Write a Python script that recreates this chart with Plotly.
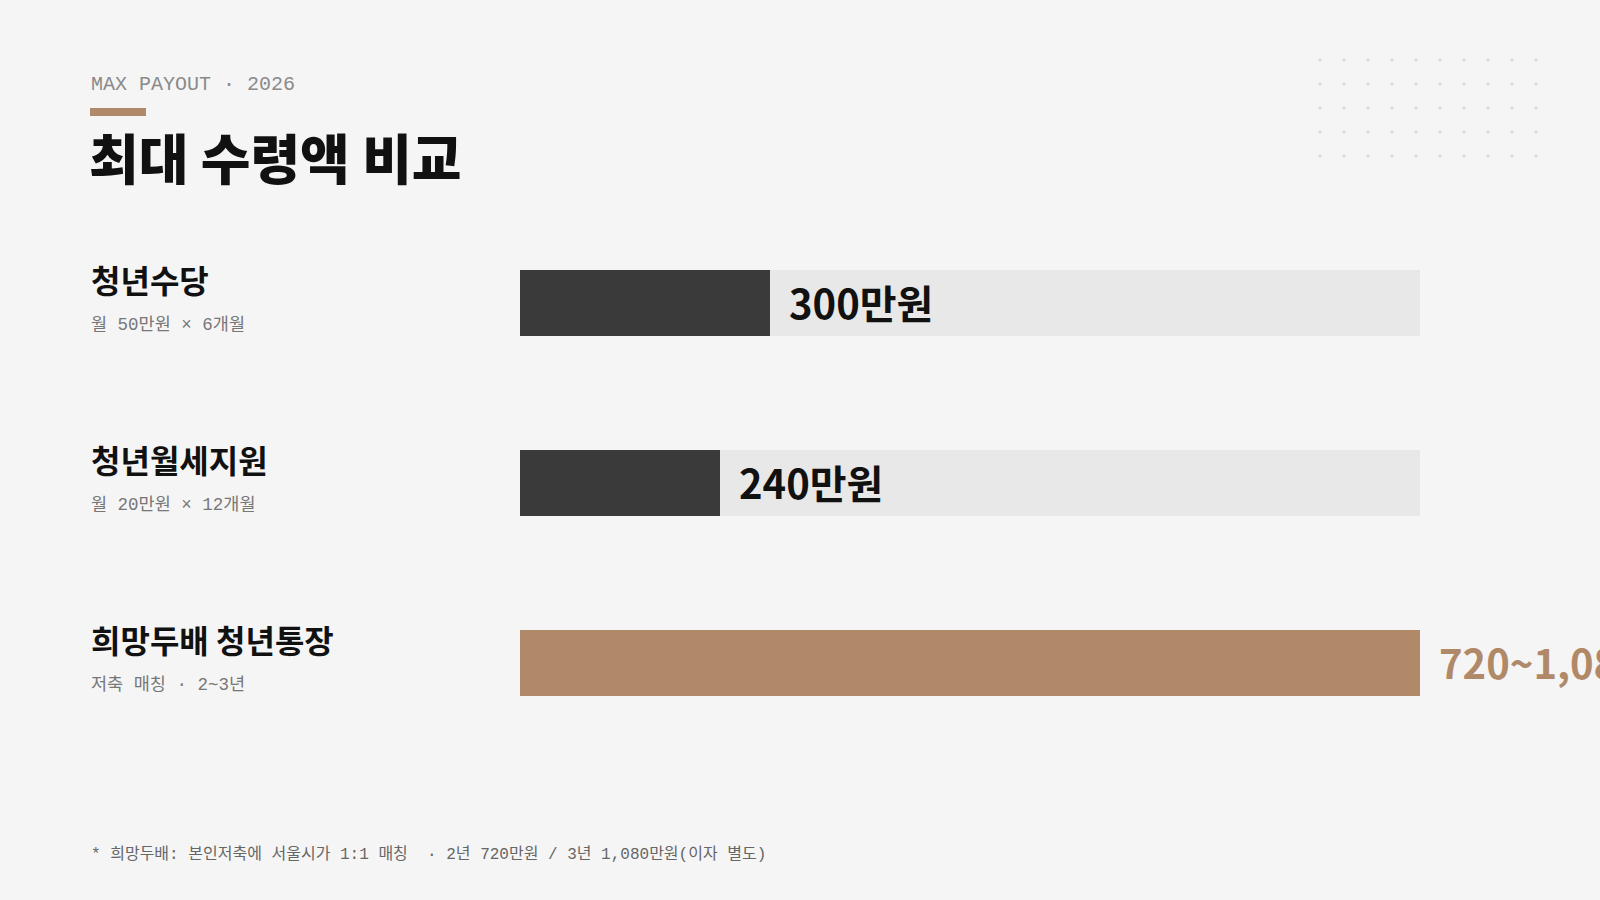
import plotly.graph_objects as go

# ---- data ----
categories = ["청년수당", "청년월세지원", "희망두배 청년통장"]
subtitles = ["월 50만원 × 6개월", "월 20만원 × 12개월", "저축 매칭 · 2~3년"]
values = [300, 240, 1080]          # 만원 (upper bound for 희망두배)
value_labels = ["300만원", "240만원", "720~1,080만원"]
max_value = 1080

W, H = 1600, 900
BG = "#f5f5f5"
DARK = "#3a3a3a"
BROWN = "#b08968"
TRACK = "#e8e8e8"
bar_colors = [DARK, DARK, BROWN]
label_colors = ["#111111", "#111111", BROWN]

KR = "Noto Sans CJK KR"
MONO = "Courier New, Nimbus Mono PS, FreeMono, Courier, Liberation Mono, Noto Sans CJK KR"

fig = go.Figure()
# track
fig.add_trace(go.Bar(
    y=categories, x=[max_value] * len(categories), orientation="h",
    marker=dict(color=TRACK, line=dict(width=0)), width=0.3667,
    hoverinfo="skip", showlegend=False))
# values
fig.add_trace(go.Bar(
    y=categories, x=values, orientation="h",
    marker=dict(color=bar_colors, line=dict(width=0)), width=0.3667,
    showlegend=False))

annotations = []
for i, (cat, sub, v, lab, lc) in enumerate(zip(categories, subtitles, values, value_labels, label_colors)):
    annotations.append(dict(x=v, y=cat, xref="x", yref="y", text=lab, showarrow=False,
                            xanchor="left", yanchor="middle", xshift=17, yshift=1,
                            font=dict(family=KR, size=40, color=lc, weight=700)))
    annotations.append(dict(x=89 / W, y=cat, xref="paper", yref="y", text=cat, showarrow=False,
                            xanchor="left", yanchor="middle", yshift=24,
                            font=dict(family=KR, size=32, color="#111111", weight=700)))
    annotations.append(dict(x=89 / W, y=cat, xref="paper", yref="y",
                            text=sub.replace(" ", "\u00a0"), showarrow=False,
                            xanchor="left", yanchor="middle", yshift=-22,
                            font=dict(family=MONO, size=17.5, color="#777777")))

annotations += [
    dict(x=89 / W, y=1 - 84 / H, xref="paper", yref="paper", text="MAX PAYOUT · 2026",
         showarrow=False, xanchor="left", yanchor="middle",
         font=dict(family=MONO, size=20, color="#8a8a8a")),
    dict(x=87 / W, y=1 - 156 / H, xref="paper", yref="paper", text="최대 수령액 비교",
         showarrow=False, xanchor="left", yanchor="middle",
         font=dict(family=KR, size=54, color="#111111", weight=900)),
    dict(x=89 / W, y=1 - 854 / H, xref="paper", yref="paper",
         text="*\u00a0희망두배:\u00a0본인저축에\u00a0서울시가\u00a01:1\u00a0매칭\u00a0\u00a0·\u00a02년\u00a0720만원\u00a0/\u00a03년\u00a01,080만원(이자\u00a0별도)",
         showarrow=False, xanchor="left", yanchor="middle",
         font=dict(family=MONO, size=16, color="#666666")),
]

shapes = [dict(type="rect", xref="paper", yref="paper", x0=90 / W, x1=146 / W,
               y0=1 - 116 / H, y1=1 - 108 / H, fillcolor=BROWN, line=dict(width=0), layer="above")]
for r in range(5):
    for c in range(10):
        cx, cy = 1320 + 24 * c, 60 + 24 * r
        shapes.append(dict(type="circle", xref="paper", yref="paper",
                           x0=(cx - 1.6) / W, x1=(cx + 1.6) / W,
                           y0=1 - (cy + 1.6) / H, y1=1 - (cy - 1.6) / H,
                           fillcolor="#d6d6d6", line=dict(width=0)))

fig.update_layout(
    width=W, height=H, paper_bgcolor=BG, plot_bgcolor=BG,
    margin=dict(l=0, r=0, t=0, b=0), barmode="overlay",
    xaxis=dict(domain=[520 / W, 1420 / W], range=[0, max_value], visible=False, fixedrange=True),
    yaxis=dict(domain=[1 - 843 / H, 1 - 123 / H], range=[3, -1], visible=False,
               type="category", categoryorder="array", categoryarray=categories),
    annotations=annotations, shapes=shapes,
)

fig.write_html("out.html", config={"displayModeBar": False},
               post_script="document.body.style.margin='0';document.body.style.background='#f5f5f5';")
